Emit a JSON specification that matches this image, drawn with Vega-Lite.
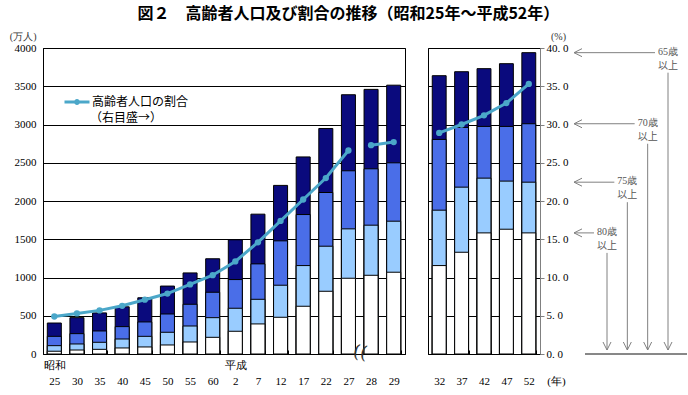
{
  "$schema": "https://vega.github.io/schema/vega-lite/v6.json",
  "background": "white",
  "padding": {"left": 8, "top": 5, "right": 0, "bottom": 0},
  "title": {"text": "図２　高齢者人口及び割合の推移（昭和25年～平成52年）", "font": "Noto Sans CJK JP", "fontSize": 16, "fontWeight": "bold", "color": "#000", "anchor": "middle", "offset": 9},
  "config": {
    "font": "Noto Sans CJK JP",
    "axis": {"labelFont": "Liberation Serif", "labelFontSize": 11, "labelColor": "#000", "titleFont": "Liberation Serif", "titleFontSize": 10, "titleFontWeight": "normal", "titleColor": "#333"},
    "legend": {"padding": 0}
  },
  "datasets": {
    "bars": [
      {"年": "昭和25", "panel": "L", "65歳以上": 405, "70歳以上": 231, "75歳以上": 109, "80歳以上": 36},
      {"年": "昭和30", "panel": "L", "65歳以上": 475, "70歳以上": 266, "75歳以上": 131, "80歳以上": 52},
      {"年": "昭和35", "panel": "L", "65歳以上": 537, "70歳以上": 301, "75歳以上": 153, "80歳以上": 61},
      {"年": "昭和40", "panel": "L", "65歳以上": 617, "70歳以上": 358, "75歳以上": 196, "80歳以上": 79},
      {"年": "昭和45", "panel": "L", "65歳以上": 735, "70歳以上": 419, "75歳以上": 231, "80歳以上": 92},
      {"年": "昭和50", "panel": "L", "65歳以上": 888, "70歳以上": 523, "75歳以上": 284, "80歳以上": 118},
      {"年": "昭和55", "panel": "L", "65歳以上": 1060, "70歳以上": 650, "75歳以上": 366, "80歳以上": 157},
      {"年": "昭和60", "panel": "L", "65歳以上": 1245, "70歳以上": 807, "75歳以上": 475, "80歳以上": 218},
      {"年": "平成2", "panel": "L", "65歳以上": 1493, "70歳以上": 973, "75歳以上": 598, "80歳以上": 297},
      {"年": "平成7", "panel": "L", "65歳以上": 1828, "70歳以上": 1178, "75歳以上": 715, "80歳以上": 393},
      {"年": "平成12", "panel": "L", "65歳以上": 2204, "70歳以上": 1479, "75歳以上": 899, "80歳以上": 480},
      {"年": "平成17", "panel": "L", "65歳以上": 2576, "70歳以上": 1823, "75歳以上": 1156, "80歳以上": 624},
      {"年": "平成22", "panel": "L", "65歳以上": 2948, "70歳以上": 2111, "75歳以上": 1409, "80歳以上": 820},
      {"年": "平成27", "panel": "L", "65歳以上": 3389, "70歳以上": 2395, "75歳以上": 1636, "80歳以上": 990},
      {"年": "平成28", "panel": "L", "65歳以上": 3459, "70歳以上": 2421, "75歳以上": 1684, "80歳以上": 1029},
      {"年": "平成29", "panel": "L", "65歳以上": 3514, "70歳以上": 2499, "75歳以上": 1736, "80歳以上": 1069},
      {"年": "平成32", "panel": "R", "65歳以上": 3638, "70歳以上": 2805, "75歳以上": 1880, "80歳以上": 1156},
      {"年": "平成37", "panel": "R", "65歳以上": 3690, "70歳以上": 2962, "75歳以上": 2181, "80歳以上": 1330},
      {"年": "平成42", "panel": "R", "65歳以上": 3730, "70歳以上": 2975, "75歳以上": 2299, "80歳以上": 1583},
      {"年": "平成47", "panel": "R", "65歳以上": 3795, "70歳以上": 2975, "75歳以上": 2260, "80歳以上": 1631},
      {"年": "平成52", "panel": "R", "65歳以上": 3939, "70歳以上": 3010, "75歳以上": 2246, "80歳以上": 1583}
    ],
    "pct": [
      {"年": "昭和25", "panel": "L", "seg": "a", "割合": 4.9},
      {"年": "昭和30", "panel": "L", "seg": "a", "割合": 5.3},
      {"年": "昭和35", "panel": "L", "seg": "a", "割合": 5.7},
      {"年": "昭和40", "panel": "L", "seg": "a", "割合": 6.3},
      {"年": "昭和45", "panel": "L", "seg": "a", "割合": 7.1},
      {"年": "昭和50", "panel": "L", "seg": "a", "割合": 7.9},
      {"年": "昭和55", "panel": "L", "seg": "a", "割合": 9.1},
      {"年": "昭和60", "panel": "L", "seg": "a", "割合": 10.3},
      {"年": "平成2", "panel": "L", "seg": "a", "割合": 12.1},
      {"年": "平成7", "panel": "L", "seg": "a", "割合": 14.6},
      {"年": "平成12", "panel": "L", "seg": "a", "割合": 17.4},
      {"年": "平成17", "panel": "L", "seg": "a", "割合": 20.2},
      {"年": "平成22", "panel": "L", "seg": "a", "割合": 23.0},
      {"年": "平成27", "panel": "L", "seg": "a", "割合": 26.6},
      {"年": "平成28", "panel": "L", "seg": "b", "割合": 27.3},
      {"年": "平成29", "panel": "L", "seg": "b", "割合": 27.7},
      {"年": "平成32", "panel": "R", "seg": "c", "割合": 28.9},
      {"年": "平成37", "panel": "R", "seg": "c", "割合": 30.0},
      {"年": "平成42", "panel": "R", "seg": "c", "割合": 31.2},
      {"年": "平成47", "panel": "R", "seg": "c", "割合": 32.8},
      {"年": "平成52", "panel": "R", "seg": "c", "割合": 35.3}
    ]
  },
  "bounds": "flush",
  "spacing": 23,
  "hconcat": [
    {
      "width": 362,
      "height": 306,
      "view": {"stroke": "#000", "strokeWidth": 1},
      "layer": [
        {
          "data": {"name": "bars"},
          "transform": [
            {"filter": "datum.panel == 'L'"},
            {"fold": ["65歳以上", "70歳以上", "75歳以上", "80歳以上"], "as": ["区分", "人口"]}
          ],
          "mark": {"type": "bar", "stroke": "#000", "strokeWidth": 1},
          "encoding": {
            "x": {
              "field": "年", "type": "nominal",
              "scale": {"domain": ["昭和25", "昭和30", "昭和35", "昭和40", "昭和45", "昭和50", "昭和55", "昭和60", "平成2", "平成7", "平成12", "平成17", "平成22", "平成27", "平成28", "平成29"], "paddingInner": 0.38, "paddingOuter": 0.19},
              "axis": {"title": null, "labelAngle": 0, "labelExpr": "!isValid(datum.value) ? '' : datum.value == '昭和25' ? ['昭和', '25'] : datum.value == '平成2' ? ['平成', '2'] : ['', replace(replace(datum.value, '昭和', ''), '平成', '')]", "labelBaseline": "top", "labelPadding": 9, "labelLineHeight": 16, "tickBand": "extent", "tickSize": -4, "tickColor": "#000", "domainColor": "#000"}
            },
            "y": {
              "field": "人口", "type": "quantitative", "stack": null,
              "scale": {"domain": [0, 4000], "nice": false},
              "axis": {"values": [0, 500, 1000, 1500, 2000, 2500, 3000, 3500, 4000], "format": "d", "grid": true, "gridColor": "#000", "gridOpacity": 1, "ticks": false, "labelPadding": 7, "domainColor": "#000", "title": "(万人)", "titleAngle": 0, "titleAlign": "right", "titleBaseline": "middle", "titleX": -7, "titleY": -12}
            },
            "fill": {"field": "区分", "type": "nominal", "scale": {"domain": ["65歳以上", "70歳以上", "75歳以上", "80歳以上"], "range": ["#0A0A7D", "#4A6EE8", "#99CCFF", "#FFFFFF"]}, "legend": null},
            "order": {"field": "区分", "type": "nominal", "sort": "ascending"}
          }
        },
        {
          "data": {"name": "pct"},
          "transform": [{"filter": "datum.panel == 'L'"}],
          "mark": {"type": "line", "strokeWidth": 3},
          "encoding": {
            "x": {"field": "年", "type": "nominal"},
            "y": {"field": "割合", "type": "quantitative", "scale": {"domain": [0, 40], "nice": false}, "axis": null},
            "detail": {"field": "seg"},
            "stroke": {
              "datum": "高齢者人口の割合", "type": "nominal",
              "scale": {"range": ["#4BA7C9"]},
              "legend": {"orient": "none", "legendX": 20, "legendY": 40, "title": "（右目盛→）", "titleOrient": "bottom", "titleFont": "Noto Sans CJK JP", "titleFontWeight": "normal", "titleFontSize": 12, "titleColor": "#000", "titleAnchor": "middle", "titlePadding": 3, "labelFont": "Noto Sans CJK JP", "labelFontSize": 12, "labelColor": "#000", "labelOffset": 1, "symbolType": "M-1,0L1,0M-0.12,0A0.12,0.12,0,1,1,0.12,0A0.12,0.12,0,1,1,-0.12,0", "symbolSize": 625, "symbolStrokeWidth": 3, "symbolFillColor": "#4BA7C9"}
            }
          }
        },
        {
          "data": {"name": "pct"},
          "transform": [{"filter": "datum.panel == 'L'"}],
          "mark": {"type": "point", "filled": true, "size": 40, "color": "#4BA7C9", "opacity": 1},
          "encoding": {
            "x": {"field": "年", "type": "nominal"},
            "y": {"field": "割合", "type": "quantitative", "scale": {"domain": [0, 40], "nice": false}, "axis": null}
          }
        },
        {
          "data": {"values": [{"年": "平成28"}]},
          "mark": {"type": "text", "text": "((", "dx": -11, "dy": 1, "fontSize": 18, "font": "DejaVu Serif", "color": "#333", "baseline": "middle", "angle": 10},
          "encoding": {
            "x": {"field": "年", "type": "nominal"},
            "y": {"datum": 0, "type": "quantitative", "scale": {"domain": [0, 4000], "nice": false}, "axis": null}
          }
        }
      ],
      "resolve": {"scale": {"y": "independent"}}
    },
    {
      "bounds": "flush",
      "spacing": 30,
      "hconcat": [
        {
          "width": 112,
          "height": 306,
          "view": {"stroke": "#000", "strokeWidth": 1},
          "layer": [
            {
              "data": {"name": "bars"},
              "transform": [
                {"filter": "datum.panel == 'R'"},
                {"fold": ["65歳以上", "70歳以上", "75歳以上", "80歳以上"], "as": ["区分", "人口"]}
              ],
              "mark": {"type": "bar", "stroke": "#000", "strokeWidth": 1},
              "encoding": {
                "x": {
                  "field": "年", "type": "nominal",
                  "scale": {"domain": ["平成32", "平成37", "平成42", "平成47", "平成52"], "paddingInner": 0.38, "paddingOuter": 0.19},
                  "axis": {"labelAngle": 0, "labelExpr": "!isValid(datum.value) ? '' : ['', replace(datum.value, '平成', '')]", "labelBaseline": "top", "labelPadding": 9, "labelLineHeight": 16, "tickBand": "extent", "tickSize": -4, "tickColor": "#000", "domainColor": "#000", "title": "(年)", "titleFontSize": 11, "titleColor": "#000", "titleAngle": 0, "titleAlign": "center", "titleBaseline": "middle", "titleX": 128, "titleY": 27}
                },
                "y": {"field": "人口", "type": "quantitative", "stack": null, "scale": {"domain": [0, 4000], "nice": false}, "axis": null},
                "fill": {"field": "区分", "type": "nominal", "scale": {"domain": ["65歳以上", "70歳以上", "75歳以上", "80歳以上"], "range": ["#0A0A7D", "#4A6EE8", "#99CCFF", "#FFFFFF"]}, "legend": null},
                "order": {"field": "区分", "type": "nominal", "sort": "ascending"}
              }
            },
            {
              "data": {"name": "pct"},
              "transform": [{"filter": "datum.panel == 'R'"}],
              "mark": {"type": "line", "strokeWidth": 3, "color": "#4BA7C9"},
              "encoding": {
                "x": {"field": "年", "type": "nominal"},
                "y": {
                  "field": "割合", "type": "quantitative",
                  "scale": {"domain": [0, 40], "nice": false},
                  "axis": {"orient": "right", "values": [0, 5, 10, 15, 20, 25, 30, 35, 40], "grid": true, "gridColor": "#000", "gridOpacity": 1, "domainColor": "#808080", "tickColor": "#808080", "tickSize": 4, "labelPadding": 2, "labelExpr": "replace(format(datum.value, '.1f'), '.', '. ')", "title": "(%)", "titleAngle": 0, "titleAlign": "center", "titleBaseline": "middle", "titleX": 18, "titleY": -12}
                }
              }
            },
            {
              "data": {"name": "pct"},
              "transform": [{"filter": "datum.panel == 'R'"}],
              "mark": {"type": "point", "filled": true, "size": 40, "color": "#4BA7C9", "opacity": 1},
              "encoding": {
                "x": {"field": "年", "type": "nominal"},
                "y": {"field": "割合", "type": "quantitative", "scale": {"domain": [0, 40], "nice": false}, "axis": null}
              }
            }
          ],
          "resolve": {"scale": {"y": "independent"}}
        },
        {
          "width": 118,
          "height": 306,
          "view": {"stroke": null},
          "data": {"name": "bars"},
          "transform": [
            {"filter": "datum['年'] == '平成52'"},
            {"fold": ["65歳以上", "70歳以上", "75歳以上", "80歳以上"], "as": ["区分", "人口"]},
            {"calculate": "slice(datum['区分'], 0, 3)", "as": "lab"}
          ],
          "encoding": {
            "x": {"field": "区分", "type": "nominal", "scale": {"type": "point", "domain": ["80歳以上", "75歳以上", "70歳以上", "65歳以上"], "range": [37, 98], "padding": 0}, "axis": null},
            "y": {"field": "人口", "type": "quantitative", "scale": {"domain": [0, 4000], "nice": false}, "axis": null}
          },
          "layer": [
            {"mark": {"type": "rule", "color": "#808080", "strokeWidth": 1, "xOffset": -13}, "encoding": {"x2": {"value": 4}}},
            {"mark": {"type": "point", "shape": "M2,-1L0,0L2,1", "size": 64, "filled": false, "stroke": "#808080", "strokeWidth": 1, "opacity": 1}, "encoding": {"x": {"value": 4}}},
            {"mark": {"type": "rule", "color": "#808080", "strokeWidth": 1, "yOffset": 20, "y2Offset": -4}, "encoding": {"y2": {"datum": 0}}},
            {"mark": {"type": "point", "shape": "M-1,-2L0,0L1,-2", "size": 64, "filled": false, "stroke": "#808080", "strokeWidth": 1, "opacity": 1, "yOffset": -4}, "encoding": {"y": {"datum": 0, "type": "quantitative"}}},
            {"mark": {"type": "text", "fontSize": 10, "color": "#555", "dy": -1, "font": "Liberation Serif"}, "encoding": {"text": {"field": "lab"}}},
            {"mark": {"type": "text", "fontSize": 10, "color": "#555", "dy": 13, "text": "以上", "font": "Noto Sans CJK JP"}, "encoding": {}},
            {"mark": {"type": "rule", "color": "#808080", "strokeWidth": 1}, "encoding": {"x": {"value": 15}, "x2": {"value": 117}, "y": {"datum": 0, "type": "quantitative"}}}
          ]
        }
      ]
    }
  ]
}
